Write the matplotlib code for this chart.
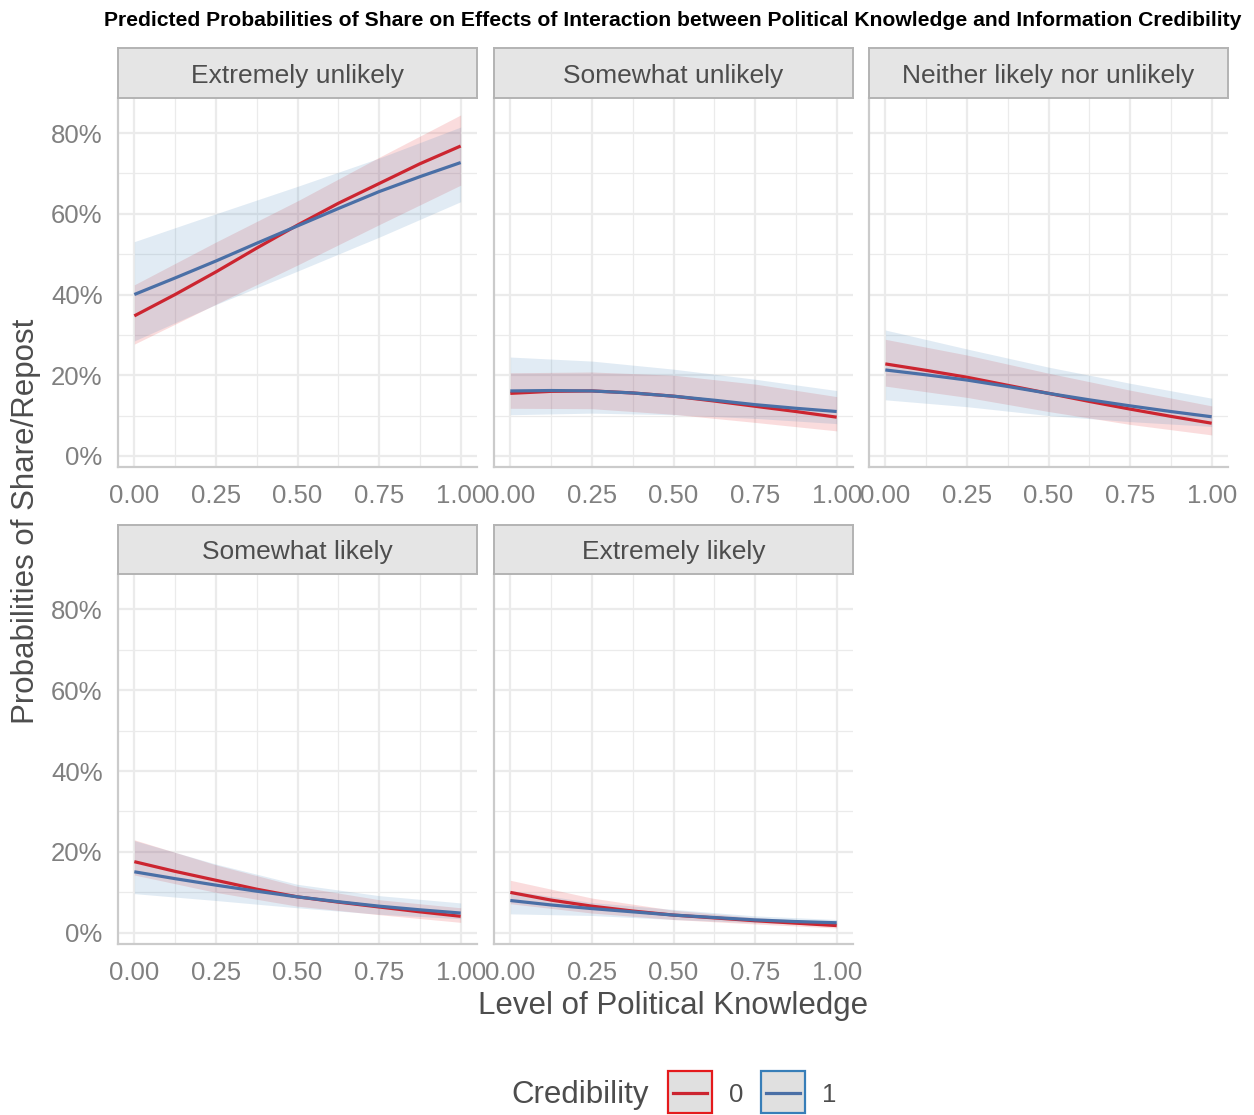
import numpy as np
import matplotlib
matplotlib.use("Agg")
import matplotlib.pyplot as plt
from matplotlib import font_manager
from matplotlib.patches import Rectangle
from matplotlib.lines import Line2D
from matplotlib.ticker import FixedLocator, FuncFormatter

# ---- data: predicted probabilities by knowledge level ----
panels = ["Extremely unlikely", "Somewhat unlikely", "Neither likely nor unlikely",
          "Somewhat likely", "Extremely likely"]
credibility_levels = ["0", "1"]

# fitted curves
knowledge_fit = [0.0, 0.125, 0.25, 0.375, 0.5, 0.625, 0.75, 0.875, 1.0]
fit_0 = [
    [0.347, 0.400, 0.456, 0.515, 0.572, 0.626, 0.675, 0.724, 0.768],
    [0.155, 0.160, 0.161, 0.156, 0.148, 0.136, 0.123, 0.110, 0.096],
    [0.228, 0.212, 0.195, 0.175, 0.155, 0.135, 0.116, 0.098, 0.081],
    [0.176, 0.152, 0.130, 0.108, 0.089, 0.076, 0.064, 0.052, 0.041],
    [0.100, 0.081, 0.066, 0.054, 0.044, 0.037, 0.030, 0.024, 0.018],
]
fit_1 = [
    [0.400, 0.441, 0.483, 0.527, 0.570, 0.613, 0.655, 0.692, 0.727],
    [0.161, 0.162, 0.161, 0.156, 0.148, 0.138, 0.127, 0.118, 0.110],
    [0.213, 0.201, 0.188, 0.172, 0.155, 0.139, 0.124, 0.110, 0.097],
    [0.151, 0.134, 0.118, 0.103, 0.089, 0.077, 0.066, 0.057, 0.049],
    [0.080, 0.069, 0.060, 0.052, 0.044, 0.038, 0.032, 0.028, 0.025],
]

# confidence bands
knowledge_band = [0.0, 0.25, 0.5, 0.75, 1.0]
low_0 = [
    [0.277, 0.376, 0.473, 0.573, 0.671],
    [0.118, 0.117, 0.103, 0.083, 0.062],
    [0.173, 0.145, 0.110, 0.078, 0.052],
    [0.143, 0.100, 0.066, 0.045, 0.026],
    [0.072, 0.049, 0.033, 0.022, 0.012],
]
high_0 = [
    [0.424, 0.530, 0.632, 0.740, 0.845],
    [0.206, 0.208, 0.200, 0.178, 0.147],
    [0.289, 0.250, 0.205, 0.163, 0.124],
    [0.230, 0.168, 0.115, 0.082, 0.062],
    [0.130, 0.086, 0.056, 0.038, 0.026],
]
low_1 = [
    [0.285, 0.375, 0.458, 0.542, 0.630],
    [0.102, 0.106, 0.102, 0.093, 0.080],
    [0.139, 0.122, 0.100, 0.085, 0.073],
    [0.097, 0.080, 0.062, 0.046, 0.035],
    [0.047, 0.043, 0.033, 0.025, 0.018],
]
high_1 = [
    [0.531, 0.600, 0.668, 0.738, 0.815],
    [0.245, 0.235, 0.215, 0.190, 0.162],
    [0.312, 0.265, 0.220, 0.180, 0.143],
    [0.228, 0.170, 0.120, 0.092, 0.074],
    [0.105, 0.075, 0.058, 0.042, 0.033],
]

x_ticks = [0.0, 0.25, 0.5, 0.75, 1.0]
y_ticks = [0.0, 0.2, 0.4, 0.6, 0.8]

# ---- style ----
installed = {f.name for f in font_manager.fontManager.ttflist}
base_font = "Liberation Sans" if "Liberation Sans" in installed else "DejaVu Sans"
plt.rcParams["font.family"] = [base_font, "DejaVu Sans"]

line_colors = ["#CC2530", "#4A6FA6"]
fill_colors = ["#E41A1C", "#377EB8"]
fill_alpha = 0.15
grid_color = "#EBEBEB"
axis_color = "#CBCBCB"
tick_color = "#808080"
text_color = "#4D4D4D"

W, H = 1254, 1115
fig = plt.figure(figsize=(W / 100, H / 100), dpi=100)
fig.patch.set_facecolor("white")


def fx(px):
    return px / W


def fy(py):
    return 1 - py / H


col_left = [118, 494, 869]
panel_w = 359
rows = [(98, 467, 48), (574, 944, 525)]  # (top, bottom, strip top)

for i, name in enumerate(panels):
    r, c = divmod(i, 3)
    top, bottom, strip_top = rows[r]
    left = col_left[c]
    ax = fig.add_axes([fx(left), fy(bottom), fx(panel_w), (bottom - top) / H])
    ax.set_xlim(-0.05, 1.05)
    ax.set_ylim(-0.0275, 0.887)
    ax.set_facecolor("white")

    # confidence ribbons then fitted lines
    ax.fill_between(knowledge_band, low_0[i], high_0[i], color=fill_colors[0],
                    alpha=fill_alpha, linewidth=0, zorder=2)
    ax.fill_between(knowledge_band, low_1[i], high_1[i], color=fill_colors[1],
                    alpha=fill_alpha, linewidth=0, zorder=2)
    ax.plot(knowledge_fit, fit_0[i], color=line_colors[0], lw=2.3, zorder=3,
            solid_capstyle="butt", solid_joinstyle="round")
    ax.plot(knowledge_fit, fit_1[i], color=line_colors[1], lw=2.3, zorder=3,
            solid_capstyle="butt", solid_joinstyle="round")

    ax.xaxis.set_major_locator(FixedLocator(x_ticks))
    ax.xaxis.set_minor_locator(FixedLocator([0.125, 0.375, 0.625, 0.875]))
    ax.yaxis.set_major_locator(FixedLocator(y_ticks))
    ax.yaxis.set_minor_locator(FixedLocator([0.1, 0.3, 0.5, 0.7]))
    ax.grid(which="major", color=grid_color, lw=1.6, zorder=0)
    ax.grid(which="minor", color=grid_color, lw=0.9, zorder=0)
    ax.set_axisbelow(True)

    ax.xaxis.set_major_formatter(FuncFormatter(lambda v, p: f"{v:.2f}"))
    if c == 0:
        ax.yaxis.set_major_formatter(FuncFormatter(lambda v, p: f"{v * 100:.0f}%"))
    else:
        ax.yaxis.set_major_formatter(FuncFormatter(lambda v, p: ""))
    ax.tick_params(which="both", length=0)
    ax.tick_params(axis="x", labelsize=18.5, labelcolor=tick_color, pad=12.5)
    ax.tick_params(axis="y", labelsize=18.5, labelcolor=tick_color, pad=11)

    for side in ("top", "right"):
        ax.spines[side].set_visible(False)
    for side in ("left", "bottom"):
        ax.spines[side].set_color(axis_color)
        ax.spines[side].set_linewidth(1.6)

    # facet strip
    sax = fig.add_axes([fx(left), fy(top), fx(panel_w), (top - strip_top) / H])
    sax.set_facecolor("#E5E5E5")
    sax.set_xticks([])
    sax.set_yticks([])
    for sp in sax.spines.values():
        sp.set_color("#B3B3B3")
        sp.set_linewidth(1.4)
    sax.text(0.5, 0.45, name, ha="center", va="center", fontsize=19,
             color=text_color, transform=sax.transAxes)

# titles and axis labels
fig.text(fx(673), fy(20), "Predicted Probabilities of Share on Effects of Interaction "
         "between Political Knowledge and Information Credibility",
         ha="center", va="center", fontsize=15.2, fontweight="bold", color="black")
fig.text(fx(673), fy(1006), "Level of Political Knowledge", ha="center", va="center",
         fontsize=22.5, color=text_color)
fig.text(fx(26), fy(521), "Probabilities of Share/Repost", ha="center", va="center",
         rotation=90, fontsize=22.5, color=text_color)

# legend
fig.text(fx(511), fy(1095), "Credibility", ha="left", va="center",
         fontsize=22.5, color=text_color)
key_lefts = [668, 761]
for lbl, kx, lc, ec in zip(credibility_levels, key_lefts, line_colors, fill_colors):
    fig.add_artist(Rectangle((fx(kx), fy(1113)), fx(44), 42 / H,
                             transform=fig.transFigure, facecolor="#E0E0E0",
                             edgecolor=ec, lw=1.6))
    fig.add_artist(Line2D([fx(kx + 5), fx(kx + 39)], [fy(1093), fy(1093)],
                          transform=fig.transFigure, color=lc, lw=2.3))
    fig.text(fx(kx + 68), fy(1095), lbl, ha="center", va="center",
             fontsize=18.5, color=text_color)

fig.savefig("out.png", dpi=100)
